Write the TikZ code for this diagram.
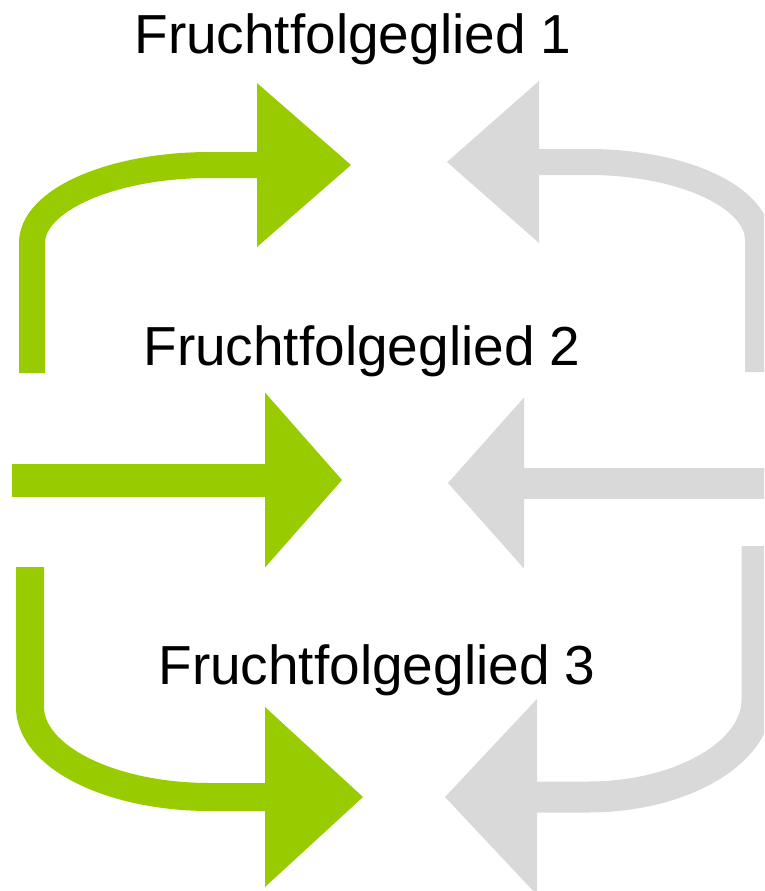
\documentclass[tikz,border=0pt]{standalone}
\usepackage{fontspec}
\setmainfont{Liberation Sans}
\usetikzlibrary{arrows.meta}
\definecolor{gruen}{HTML}{99CC00}
\definecolor{grau}{HTML}{D9D9D9}
\tikzset{
	spitze/.style 2 args={-{Triangle[length=#1,width=#2,line width=0pt]}},
	titel/.style={anchor=base,inner sep=0pt,font=\fontsize{55}{66}\selectfont}
}

\begin{document}
\begin{tikzpicture}[x=1pt,y=-1pt]
\useasboundingbox (0,0) rectangle (764,891);
\clip (0,0) rectangle (764,891);
\coordinate (g1) at (32,373);
\coordinate (g1k) at (32,243);
\coordinate (g1h) at (210,165);
\coordinate (g1e) at (351,165);
\coordinate (g2) at (12,480);
\coordinate (g2e) at (342,480);
\coordinate (g3) at (30,567);
\coordinate (g3k) at (30,707);
\coordinate (g3h) at (210,797);
\coordinate (g3e) at (363,797);
\coordinate (r1) at (758,372);
\coordinate (r1k) at (758,240);
\coordinate (r1h) at (588,162);
\coordinate (r1e) at (447,162);
\coordinate (r2) at (775,483);
\coordinate (r2e) at (448,483);
\coordinate (r3) at (757,546);
\coordinate (r3k) at (757,700);
\coordinate (r3h) at (588,797);
\coordinate (r3e) at (445,797);
\draw[gruen,line width=26pt,spitze={94pt}{164pt}] (g1) -- (g1k) .. controls +(0,-43) and +(-98,0) .. (g1h) -- (g1e);
\draw[gruen,line width=33pt,spitze={77pt}{175pt}] (g2) -- (g2e);
\draw[gruen,line width=28pt,spitze={98pt}{180pt}] (g3) -- (g3k) .. controls +(0,50) and +(-99,0) .. (g3h) -- (g3e);
\draw[grau,line width=26pt,spitze={92pt}{162pt}] (r1) -- (r1k) .. controls +(0,-43) and +(94,0) .. (r1h) -- (r1e);
\draw[grau,line width=31pt,spitze={76pt}{171pt}] (r2) -- (r2e);
\draw[grau,line width=31pt,spitze={92pt}{196pt}] (r3) -- (r3k) .. controls +(0,53) and +(93,0) .. (r3h) -- (r3e);
\node[titel] (t1) at (353,53) {Fruchtfolgeglied 1};
\node[titel] (t2) at (362,365) {Fruchtfolgeglied 2};
\node[titel] (t3) at (377,684) {Fruchtfolgeglied 3};
\end{tikzpicture}
\end{document}
